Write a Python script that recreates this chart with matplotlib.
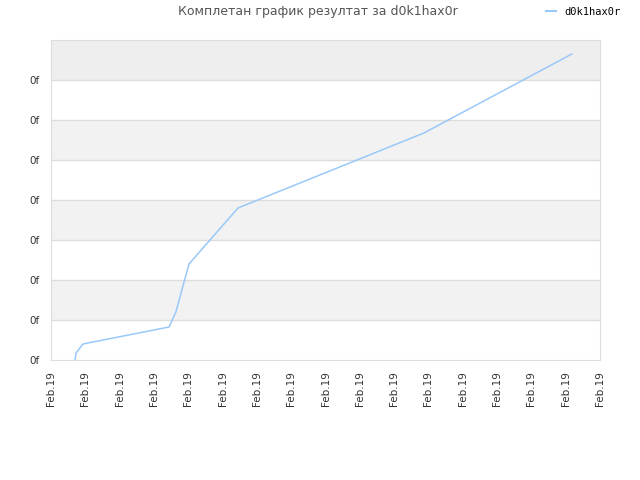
import matplotlib.pyplot as plt
from matplotlib.lines import Line2D

# positions on the time axis, in tick steps (all ticks read "Feb.19")
x_vals = [0.70, 0.73, 0.93, 3.44, 3.64, 4.02, 5.45, 10.87, 15.18]
y_vals = [0.0, 0.175, 0.4, 0.825, 1.2, 2.4, 3.8, 5.675, 7.65]
x_ticks = list(range(17))
x_labels = ['Feb.19'] * 17
y_ticks = list(range(8))
y_labels = ['0f'] * 8

fig = plt.figure(figsize=(6.4, 4.8), dpi=100)
ax = fig.add_axes([0.0797, 0.25, 0.8578, 0.6667])

# alternating background bands
band_cols = ['#ffffff', '#f2f2f2', '#ffffff', '#f2f2f2', '#ffffff', '#f2f2f2', '#ffffff', '#eeeeee']
for i, c in enumerate(band_cols):
    ax.axhspan(i, i + 1, color=c, zorder=0, lw=0)
for yy in range(1, 8):
    ax.axhline(yy, color='#dddddd', lw=1, zorder=1)

ax.plot(x_vals, y_vals, color='#99c9f9', lw=1.1, zorder=3)

ax.set_xlim(0, 16)
ax.set_ylim(0, 8)
ax.set_xticks(x_ticks)
ax.set_xticklabels(x_labels, rotation=90, fontsize=7.5, color='#333333')
ax.set_yticks(y_ticks)
ax.set_yticklabels(y_labels, fontsize=7.5, color='#333333')
ax.tick_params(axis='x', length=0, pad=8)
ax.tick_params(axis='y', length=0, pad=8)
for s in ax.spines.values():
    s.set_color('#dddddd')

fig.text(0.497, 0.975, 'Комплетан график резултат за d0k1hax0r', ha='center', va='center',
         fontsize=9, color='#555555')
fig.legend(handles=[Line2D([], [], color='#99c9f9', lw=1.5)], labels=['d0k1hax0r'],
           loc='center right', bbox_to_anchor=(0.985, 0.975), frameon=False,
           prop={'family': 'DejaVu Sans Mono', 'size': 7.5},
           handlelength=1.0, handletextpad=0.8)

plt.savefig('out.png')
